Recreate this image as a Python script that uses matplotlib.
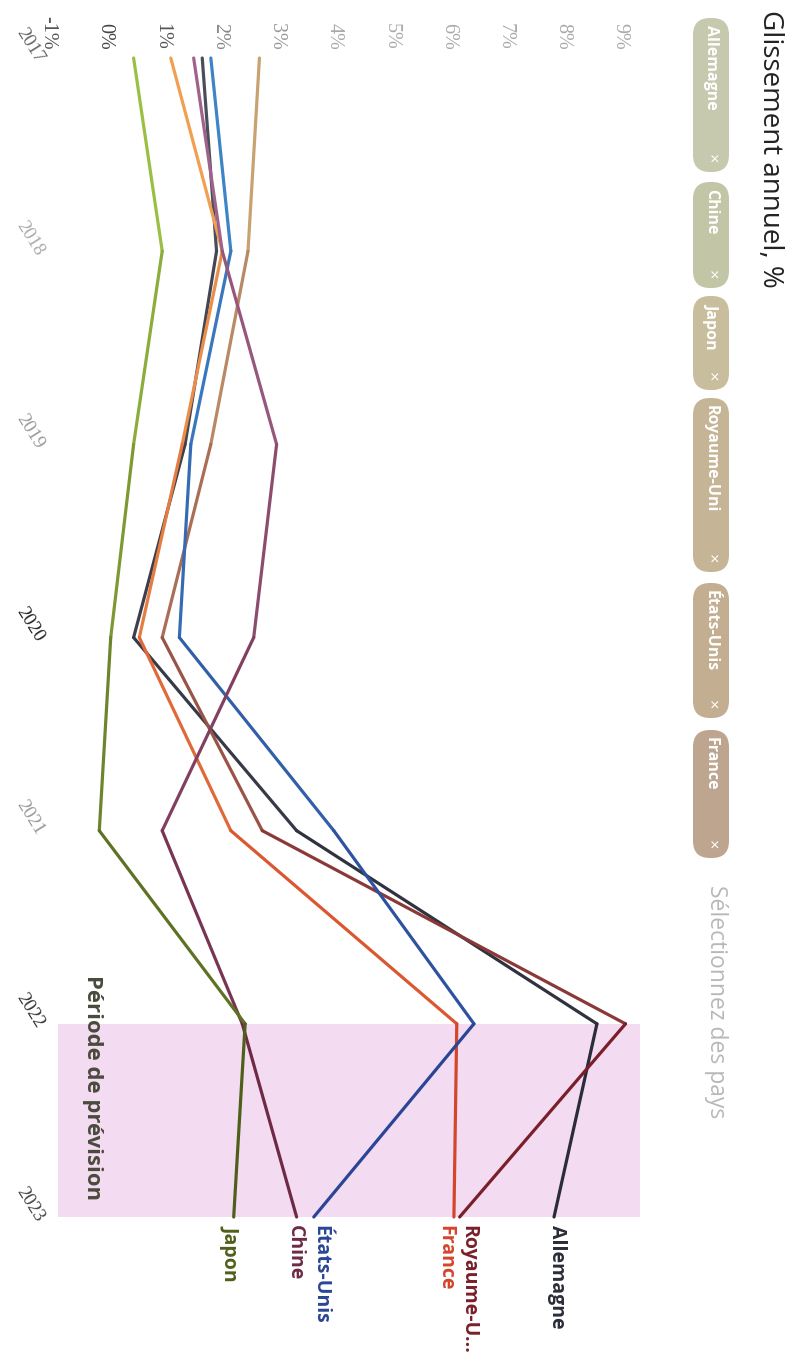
import matplotlib
matplotlib.use("Agg")
import matplotlib.pyplot as plt
from matplotlib.patches import FancyBboxPatch
from matplotlib.colors import to_rgb

plt.rcParams['font.family'] = ['Open Sans', 'DejaVu Sans']

# données (glissement annuel, %)
years = [2017, 2018, 2019, 2020, 2021, 2022, 2023]
allemagne = [1.7, 1.95, 1.4, 0.5, 3.35, 8.6, 7.85]
royaume_uni = [2.7, 2.5, 1.85, 1.0, 2.75, 9.1, 6.2]
france = [1.15, 2.05, 1.35, 0.6, 2.2, 6.15, 6.1]
etats_unis = [1.85, 2.2, 1.5, 1.3, 4.0, 6.45, 3.65]
chine = [1.55, 2.05, 3.0, 2.6, 1.0, 2.4, 3.35]
japon = [0.5, 1.0, 0.5, 0.1, -0.1, 2.45, 2.25]
end_labels = ["Allemagne", "Royaume-U...", "France", "États-Unis", "Chine", "Japon"]
pct_ticks = list(range(-1, 10))
chip_names = ["Allemagne", "Chine", "Japon", "Royaume-Uni", "États-Unis", "France"]

series = [allemagne, royaume_uni, france, etats_unis, chine, japon]
# couleur en haut / en bas de la page (le scan pâlit le haut)
top_cols = ['#4a4e5a', '#c9a272', '#f0a050', '#3d85c6', '#a0628a', '#9bbf45']
bot_cols = ['#2a2c38', '#7a1f2a', '#d4452a', '#2a4595', '#6e2a45', '#4f5f1a']
lab_dx = [3, 9, -9, 6, -2, -3]

fig = plt.figure(figsize=(8.01, 13.62), dpi=100)
W, H = 801, 1362

# axe principal : x = %, y = année (vers le bas)
l, r, t, b = 40, 645, 55, 1230
ax = fig.add_axes([l / W, 1 - b / H, (r - l) / W, (b - t) / H])
ppu = 57.2
yppu = 193.17
ax.set_xlim((l - 105) / ppu, (r - 105) / ppu)
ax.set_ylim(2023 + (b - 1217) / yppu, 2017 - (58 - t) / yppu)
ax.axis('off')

ax.axhspan(2022, 2023, xmin=(58 - l) / (r - l), xmax=(640 - l) / (r - l),
           color='#f3dbf2', zorder=0, lw=0)


def mix(c1, c2, f):
    a, bb = to_rgb(c1), to_rgb(c2)
    return tuple(a[k] * (1 - f) + bb[k] * f for k in range(3))


for vals, c1, c2 in zip(series, top_cols, bot_cols):
    for i in range(len(years) - 1):
        ax.plot(vals[i:i + 2], years[i:i + 2], color=mix(c1, c2, i / 5),
                lw=2.3, solid_capstyle='round', zorder=3)

for vals, lab, c2, dx in zip(series, end_labels, bot_cols, lab_dx):
    ax.annotate(lab, xy=(vals[-1], years[-1]), xytext=(dx, -8),
                textcoords='offset pixels', rotation=-90, ha='center', va='top',
                fontsize=14, fontweight='bold', color=c2, annotation_clip=False)

pct_cols = ['#555555', '#444444', '#555555', '#888888', '#999999'] + ['#aaaaaa'] * 6
for v, c in zip(pct_ticks, pct_cols):
    ax.text(v, 1 + 5 / (b - t), f"{v}%", transform=ax.get_xaxis_transform(),
            rotation=-90, ha='center', va='bottom', fontsize=14.5, color=c,
            family='Liberation Serif')

year_cols = ['#666666', '#aaaaaa', '#999999', '#222222', '#999999', '#333333', '#444444']
for yr, c in zip(years, year_cols):
    ax.text(0, yr + 3 / yppu, str(yr), transform=ax.get_yaxis_transform(),
            rotation=-58, rotation_mode='anchor', ha='right', va='center',
            fontsize=13.5, color=c, family='Liberation Serif')

# calque en pixels pour le titre et les boutons
ov = fig.add_axes([0, 0, 1, 1])
ov.set_xlim(0, W)
ov.set_ylim(H, 0)
ov.axis('off')

ov.text(770, 10, "Glissement annuel, %", rotation=-90, ha='center', va='top',
        fontsize=20, color='#222222')

chip_spans = [(18, 172), (182, 288), (296, 390), (398, 572), (583, 718), (730, 858)]
chip_cols = ['#c6c9ae', '#c2c6a6', '#c8be9d', '#c5b596', '#c3ae92', '#bea58f']
for name, (y0, y1), c in zip(chip_names, chip_spans, chip_cols):
    ov.add_patch(FancyBboxPatch((693, y0), 36, y1 - y0,
                                boxstyle='round,pad=0,rounding_size=17',
                                fc=c, ec='none'))
    ov.text(711, y0 + 7, name, rotation=-90, ha='center', va='top',
            fontsize=11.5, fontweight='bold', color='white')
    ov.text(711, y1 - 9, "×", rotation=-90, ha='center', va='bottom',
            fontsize=12, color='white')

ov.text(716, 885, "Sélectionnez des pays", rotation=-90, ha='center', va='top',
        fontsize=16.5, color='#b8b8b8')

ov.text(92, 975, "Période de prévision", rotation=-90, ha='center', va='top',
        fontsize=15.8, fontweight='bold', color='#4a4a3c')

fig.savefig("out.png", dpi=100)
